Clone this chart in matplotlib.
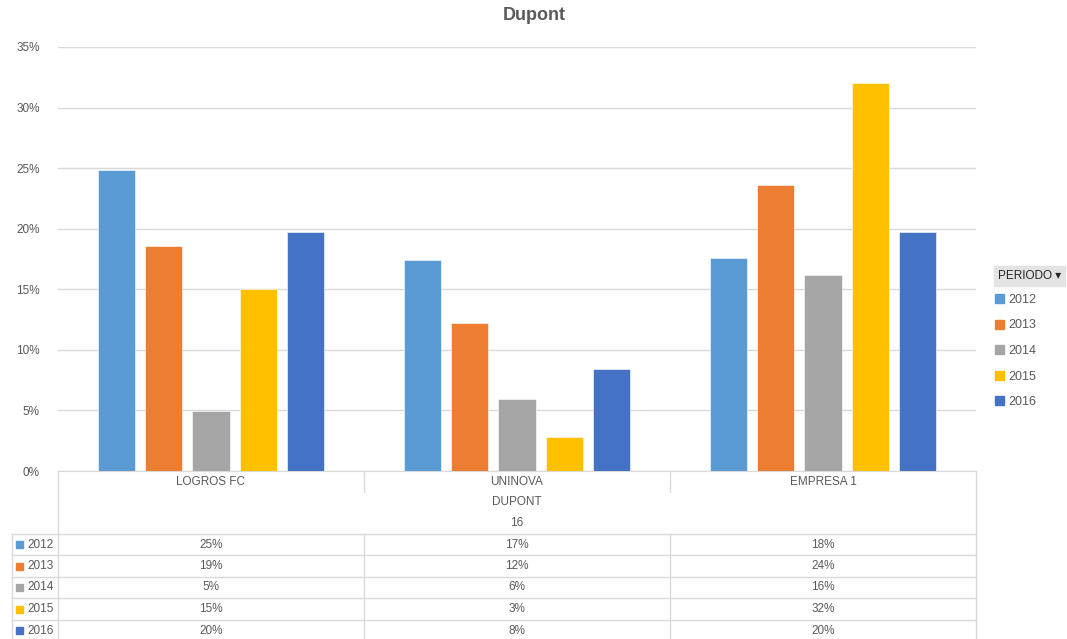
import numpy as np
import matplotlib.pyplot as plt
from matplotlib.patches import Patch
from matplotlib.ticker import PercentFormatter, MultipleLocator

plt.rcParams['font.family'] = ['Liberation Sans', 'DejaVu Sans']

# datos Dupont por empresa y periodo
empresas = ['LOGROS FC', 'UNINOVA', 'EMPRESA 1']
periodos = ['2012', '2013', '2014', '2015', '2016']
v2012 = [0.2481, 0.1742, 0.1762]
v2013 = [0.1855, 0.1221, 0.2362]
v2014 = [0.0492, 0.0591, 0.1618]
v2015 = [0.1503, 0.0279, 0.3200]
v2016 = [0.1971, 0.0841, 0.1969]
serie_vals = [v2012, v2013, v2014, v2015, v2016]
colores = ['#5B9BD5', '#ED7D31', '#A5A5A5', '#FFC000', '#4472C4']

W, H = 1067, 639
GRIS = '#595959'
LINEA = '#D9D9D9'

fig = plt.figure(figsize=(W / 100, H / 100), dpi=100)
x0, x1, y_top, y_base = 58, 976, 47, 471
ax = fig.add_axes([x0 / W, 1 - y_base / H, (x1 - x0) / W, (y_base - y_top) / H])

x = np.arange(len(empresas))
paso = 0.154
ancho = 0.121
for i, (per, vals, col) in enumerate(zip(periodos, serie_vals, colores)):
    ax.bar(x + (i - 2) * paso, vals, ancho, color=col, edgecolor='white',
           linewidth=0.4, zorder=3)

ax.set_xlim(-0.5, 2.5)
ax.set_ylim(0, 0.35)
ax.yaxis.set_major_locator(MultipleLocator(0.05))
ax.yaxis.set_major_formatter(PercentFormatter(1.0, decimals=0))
ax.grid(axis='y', color=LINEA, linewidth=1, zorder=0)
ax.tick_params(axis='y', length=0, pad=13, labelsize=8.5, labelcolor=GRIS)
ax.set_xticks([])
for s in ['top', 'right', 'left']:
    ax.spines[s].set_visible(False)
ax.spines['bottom'].set_color(LINEA)

fig.text(534 / W, 1 - 16 / H, 'Dupont', ha='center', va='center',
         fontsize=13, fontweight='bold', color=GRIS)

# tabla de datos bajo el gráfico
def fy(py):
    return 1 - py / H

def fx(px):
    return px / W

def hline(py, xa, xb):
    fig.add_artist(plt.Line2D([fx(xa), fx(xb)], [fy(py), fy(py)], color=LINEA, lw=1))

def vline(px, ya, yb):
    fig.add_artist(plt.Line2D([fx(px), fx(px)], [fy(ya), fy(yb)], color=LINEA, lw=1))

col_w = (x1 - x0) / len(empresas)
bordes = [x0 + k * col_w for k in range(len(empresas) + 1)]
filas_y = [534, 555, 577, 598, 620, 641]

vline(x0, y_base, H)
vline(x1, y_base, H)
vline(12, filas_y[0], H)
for b in bordes[1:-1]:
    vline(b, y_base, 492)
    vline(b, filas_y[0], H)
for py in filas_y[:-1]:
    hline(py, 12, x1)

for k, emp in enumerate(empresas):
    fig.text(fx((bordes[k] + bordes[k + 1]) / 2), fy(482), emp, ha='center',
             va='center', fontsize=8.5, color=GRIS)
fig.text(fx((x0 + x1) / 2), fy(502), 'DUPONT', ha='center', va='center',
         fontsize=8.5, color=GRIS)
fig.text(fx((x0 + x1) / 2), fy(523), '16', ha='center', va='center',
         fontsize=8.5, color=GRIS)

for r, (per, vals, col) in enumerate(zip(periodos, serie_vals, colores)):
    yc = (filas_y[r] + filas_y[r + 1]) / 2
    fig.add_artist(plt.Rectangle((fx(16), fy(yc + 3.5)), 7 / W, 7 / H,
                                 color=col, transform=fig.transFigure))
    fig.text(fx(27), fy(yc), per, ha='left', va='center', fontsize=8.5, color=GRIS)
    for k, v in enumerate(vals):
        fig.text(fx((bordes[k] + bordes[k + 1]) / 2), fy(yc), f'{v:.0%}',
                 ha='center', va='center', fontsize=8.5, color=GRIS)

# leyenda de periodos
fig.text(fx(998), fy(276), 'PERIODO \u25BE', ha='left', va='center', fontsize=8.5,
         color='#262626',
         bbox=dict(boxstyle='square,pad=0.35', fc='#E3E3E3', ec='#E3E3E3'))
handles = [Patch(color=c, label=p) for p, c in zip(periodos, colores)]
leg = fig.legend(handles=handles, loc='upper left',
                 bbox_to_anchor=(fx(995), fy(294)), frameon=False,
                 fontsize=9, handlelength=0.7, handleheight=0.7,
                 handletextpad=0.4, labelspacing=1.08, borderpad=0,
                 borderaxespad=0)
for t in leg.get_texts():
    t.set_color(GRIS)

fig.savefig('out.png', dpi=100)
